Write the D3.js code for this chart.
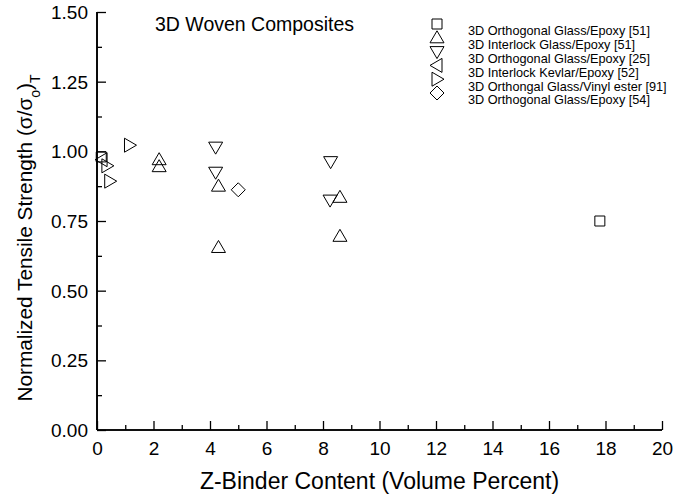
<!DOCTYPE html>
<html>
<head>
<meta charset="utf-8">
<script src="https://cdn.jsdelivr.net/npm/d3@7"></script>
<style>
  body { margin: 0; background: #fff; }
  text { font-family: "Liberation Sans", Arial, sans-serif; fill: #000; }
</style>
</head>
<body>
<svg id="chart" width="673" height="498"></svg>
<script>
// series
var seriesNames = [
  "3D Orthogonal Glass/Epoxy [51]",
  "3D Interlock Glass/Epoxy [51]",
  "3D Orthogonal Glass/Epoxy [25]",
  "3D Interlock Kevlar/Epoxy [52]",
  "3D Orthongal Glass/Vinyl ester [91]",
  "3D Orthogonal Glass/Epoxy [54]"
];
var seriesShapes = ["square", "up", "down", "left", "right", "diamond"];

var orthoGlass51 = [[0.15, 0.98], [17.8, 0.75]];
var interlockGlass51 = [[2.2, 0.97], [2.2, 0.945], [4.3, 0.875], [4.3, 0.655], [8.6, 0.835], [8.6, 0.695]];
var orthoGlass25 = [[4.2, 1.015], [4.2, 0.925], [8.27, 0.963], [8.25, 0.825]];
var interlockKevlar52 = [[0.18, 0.97]];
var orthoVinyl91 = [[1.15, 1.022], [0.35, 0.948], [0.45, 0.893]];
var orthoGlass54 = [[5.0, 0.862]];

var seriesData = [orthoGlass51, interlockGlass51, orthoGlass25, interlockKevlar52, orthoVinyl91, orthoGlass54];

var xTicks = [0, 2, 4, 6, 8, 10, 12, 14, 16, 18, 20];
var yTicks = [0, 0.25, 0.5, 0.75, 1.0, 1.25, 1.5];

(function() {
  var svg = d3.select("#chart");
  var left = 97, right = 662, top = 12, bottom = 430;

  var x = d3.scaleLinear().domain([0, 20]).range([left, right]);
  var y = d3.scaleLinear().domain([0, 1.5]).range([bottom, top]);

  // marker outlines, centred on 0,0
  function shape(kind) {
    switch (kind) {
      case "square": return "M-5,-5H5V5H-5Z";
      case "up": return "M0,-7L7,5H-7Z";
      case "down": return "M0,7L7,-5H-7Z";
      case "left": return "M-7,0L5,-7V7Z";
      case "right": return "M7,0L-5,-7V7Z";
      case "diamond": return "M0,-7L7,0L0,7L-7,0Z";
    }
  }

  // bottom axis, ticks pointing inward
  var xAxis = svg.append("g")
    .attr("transform", "translate(0," + bottom + ")")
    .call(d3.axisBottom(x).tickValues(xTicks).tickSize(-9).tickPadding(18).tickFormat(d3.format("d")));
  var xMinor = svg.append("g")
    .attr("transform", "translate(0," + bottom + ")")
    .call(d3.axisBottom(x).tickValues(d3.range(1, 20, 2)).tickSize(-5).tickFormat(""));

  var yAxis = svg.append("g")
    .attr("transform", "translate(" + left + ",0)")
    .call(d3.axisLeft(y).tickValues(yTicks).tickSize(-9).tickPadding(9).tickFormat(d3.format(".2f")));
  var yMinor = svg.append("g")
    .attr("transform", "translate(" + left + ",0)")
    .call(d3.axisLeft(y).tickValues(d3.range(0.125, 1.5, 0.25)).tickSize(-5).tickFormat(""));

  [xAxis, xMinor, yAxis, yMinor].forEach(function(g) {
    g.select(".domain").attr("stroke", "#000").attr("stroke-width", 1.6).attr("d",
      g === xAxis || g === xMinor ? "M" + left + ",0H" + right : "M0," + top + "V" + bottom);
    g.selectAll(".tick line").attr("stroke", "#000").attr("stroke-width", 1.3);
    g.selectAll(".tick text").style("font-size", "19px").attr("fill", "#000")
      .style("font-family", "'Liberation Sans', Arial, sans-serif");
  });
  xAxis.selectAll(".tick text").attr("dy", "0.35em");
  yAxis.selectAll(".tick text").attr("dy", "0.35em");

  // axis titles
  svg.append("text")
    .attr("x", (left + right) / 2).attr("y", 489)
    .attr("text-anchor", "middle").style("font-size", "23px")
    .text("Z-Binder Content (Volume Percent)");

  var yt = svg.append("text")
    .attr("transform", "translate(32," + 238 + ") rotate(-90)")
    .attr("text-anchor", "middle").style("font-size", "20.8px");
  yt.append("tspan").text("Normalized Tensile Strength (σ/σ");
  yt.append("tspan").attr("baseline-shift", "sub").style("font-size", "14px").text("o");
  yt.append("tspan").text(")");
  yt.append("tspan").attr("baseline-shift", "sub").style("font-size", "14px").text("T");

  svg.append("text")
    .attr("x", 155).attr("y", 31)
    .style("font-size", "19.5px")
    .text("3D Woven Composites");

  // points
  seriesData.forEach(function(pts, i) {
    svg.append("g").selectAll("path")
      .data(pts)
      .enter()
      .append("path")
      .attr("transform", function(d) { return "translate(" + x(d[0]) + "," + y(d[1]) + ")"; })
      .attr("d", shape(seriesShapes[i]))
      .attr("fill", "none")
      .attr("stroke", "#000")
      .attr("stroke-width", 1);
  });

  // legend
  var legend = svg.append("g").attr("transform", "translate(437,24)");
  var rows = legend.selectAll("g")
    .data(seriesNames)
    .enter()
    .append("g")
    .attr("transform", function(d, i) { return "translate(0," + (i * 13.8) + ")"; });
  rows.append("path")
    .attr("d", function(d, i) { return shape(seriesShapes[i]); })
    .attr("fill", "none").attr("stroke", "#000").attr("stroke-width", 1);
  rows.append("text")
    .attr("x", 31).attr("y", 7).attr("dy", "0.35em")
    .style("font-size", "12.7px")
    .text(function(d) { return d; });
})();
</script>
</body>
</html>
